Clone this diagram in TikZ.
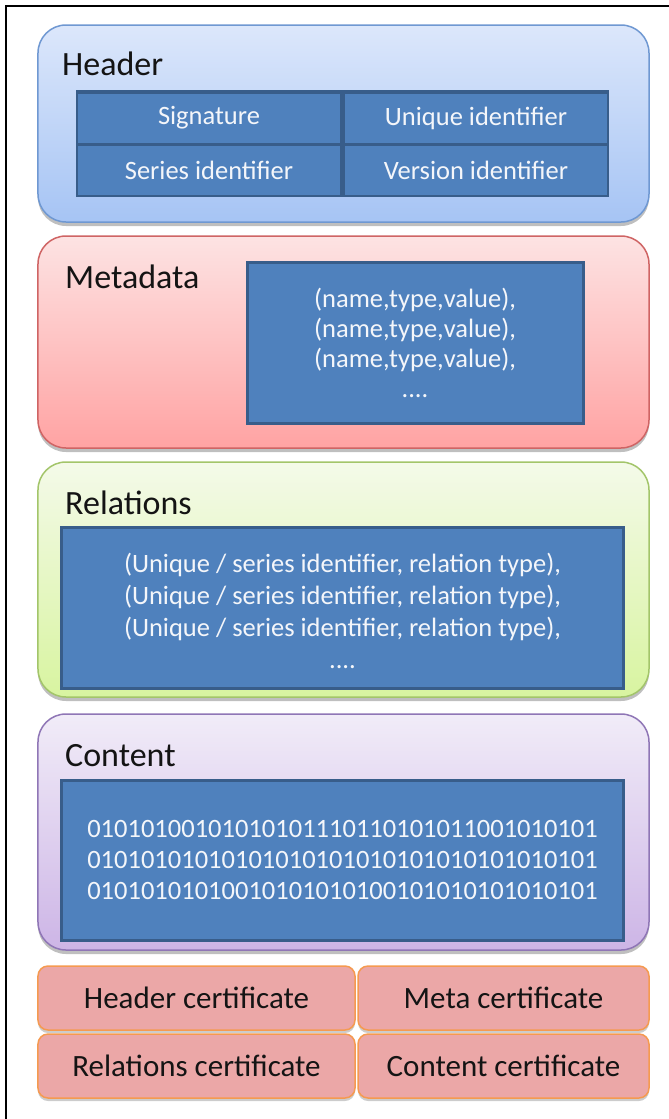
\documentclass[tikz,border=0pt]{standalone}
\usepackage{fontspec}
\setmainfont{Carlito}
\usetikzlibrary{shadows}
\definecolor{hdrTop}{HTML}{DCE7FB}
\definecolor{hdrBot}{HTML}{A6C4F4}
\definecolor{hdrLine}{HTML}{6F98D2}
\definecolor{metTop}{HTML}{FDE3E3}
\definecolor{metBot}{HTML}{FFA3A3}
\definecolor{metLine}{HTML}{CF6464}
\definecolor{relTop}{HTML}{F4FAE9}
\definecolor{relBot}{HTML}{D8F4A0}
\definecolor{relLine}{HTML}{A3C56A}
\definecolor{conTop}{HTML}{F1ECF8}
\definecolor{conBot}{HTML}{CDB5E6}
\definecolor{conLine}{HTML}{8F76B6}
\definecolor{cellBlue}{HTML}{4F81BD}
\definecolor{cellEdge}{HTML}{385D8A}
\definecolor{certFill}{HTML}{EBA7A7}
\definecolor{certLine}{HTML}{F59A50}
\definecolor{titleInk}{HTML}{141414}
\definecolor{lightInk}{HTML}{F4F6FA}
\tikzset{
  sectionbox/.style={draw, line width=1.5bp, rounded corners=28bp, inner sep=0pt,
    drop shadow={shadow xshift=0bp, shadow yshift=-4bp, opacity=0.25, fill=black}},
  titletext/.style={anchor=base west, inner sep=0pt, text=titleInk,
    font=\fontsize{34bp}{37bp}\selectfont},
  bluebox/.style={draw=cellEdge, line width=3bp, fill=cellBlue, inner sep=0pt,
    text=lightInk, align=center, font=\fontsize{26.5bp}{31bp}\selectfont},
  bluetext/.style={inner sep=0pt, text=lightInk, align=center},
  cellbox/.style={fill=cellBlue, inner sep=0pt, text=lightInk,
    font=\fontsize{26.5bp}{30bp}\selectfont},
  certbox/.style={draw=certLine, fill=certFill, line width=1.5bp, rounded corners=10bp,
    inner sep=0pt, text=titleInk, font=\fontsize{31bp}{34bp}\selectfont,
    drop shadow={shadow xshift=0bp, shadow yshift=-3bp, opacity=0.2, fill=black}}
}
\begin{document}
\begin{tikzpicture}[x=1bp,y=-1bp]
\useasboundingbox (0,0) rectangle (669,1119);
\fill[white] (0,0) rectangle (669,1119);
\draw[line width=2bp] (6,1119) -- (6,6) -- (669,6);

% Header
\node[sectionbox, draw=hdrLine, top color=hdrTop, bottom color=hdrBot,
  minimum width=611bp, minimum height=197bp] (header) at (343.5,123.5) {};
\node[titletext] (headerTitle) at (62,75) {Header};
\node[fill=cellEdge, minimum width=533bp, minimum height=107bp, inner sep=0pt] (htable) at (342.5,143.5) {};
\node[cellbox, minimum width=262bp, minimum height=49bp] (sig) at (209,118) {Signature};
\node[cellbox, minimum width=262bp, minimum height=49bp] (uid) at (476,118) {Unique identifier};
\node[cellbox, minimum width=262bp, minimum height=49bp] (sid) at (209,170.5) {Series identifier};
\node[cellbox, minimum width=262bp, minimum height=49bp] (vid) at (476,170.5) {Version identifier};

% Metadata
\node[sectionbox, draw=metLine, top color=metTop, bottom color=metBot,
  minimum width=611bp, minimum height=212bp] (meta) at (343.5,342) {};
\node[titletext] (metaTitle) at (65,288) {Metadata};
\node[bluebox, minimum width=336bp, minimum height=161bp,
  font=\fontsize{26.5bp}{30bp}\selectfont] (metaBox) at (415,342.5)
  {(name,type,value),\\(name,type,value),\\(name,type,value),\\....};

% Relations
\node[sectionbox, draw=relLine, top color=relTop, bottom color=relBot,
  minimum width=611bp, minimum height=235bp] (rel) at (343.5,579.5) {};
\node[titletext] (relTitle) at (65,514) {Relations};
\node[bluebox, minimum width=561bp, minimum height=161bp] (relBox) at (342.5,607.5) {};
\node[bluetext, font=\fontsize{26.5bp}{32bp}\selectfont] (relText) at (342.5,611)
  {(Unique / series identifier, relation type),\\(Unique / series identifier, relation type),\\(Unique / series identifier, relation type),\\....};

% Content
\node[sectionbox, draw=conLine, top color=conTop, bottom color=conBot,
  minimum width=611bp, minimum height=236bp] (con) at (343.5,832) {};
\node[titletext] (conTitle) at (65,766) {Content};
\node[bluebox, minimum width=561bp, minimum height=160bp,
  font=\fontsize{26.5bp}{31bp}\selectfont] (conBox) at (342.5,860)
  {01010100101010101110110101011001010101\\01010101010101010101010101010101010101\\01010101010010101010100101010101010101};

% Certificates
\node[certbox, minimum width=317bp, minimum height=64bp] (hcert) at (196.5,998) {Header certificate};
\node[certbox, minimum width=291bp, minimum height=64bp] (mcert) at (503.5,998) {Meta certificate};
\node[certbox, minimum width=317bp, minimum height=64bp] (rcert) at (196.5,1066) {Relations certificate};
\node[certbox, minimum width=291bp, minimum height=64bp] (ccert) at (503.5,1066) {Content certificate};
\end{tikzpicture}
\end{document}
